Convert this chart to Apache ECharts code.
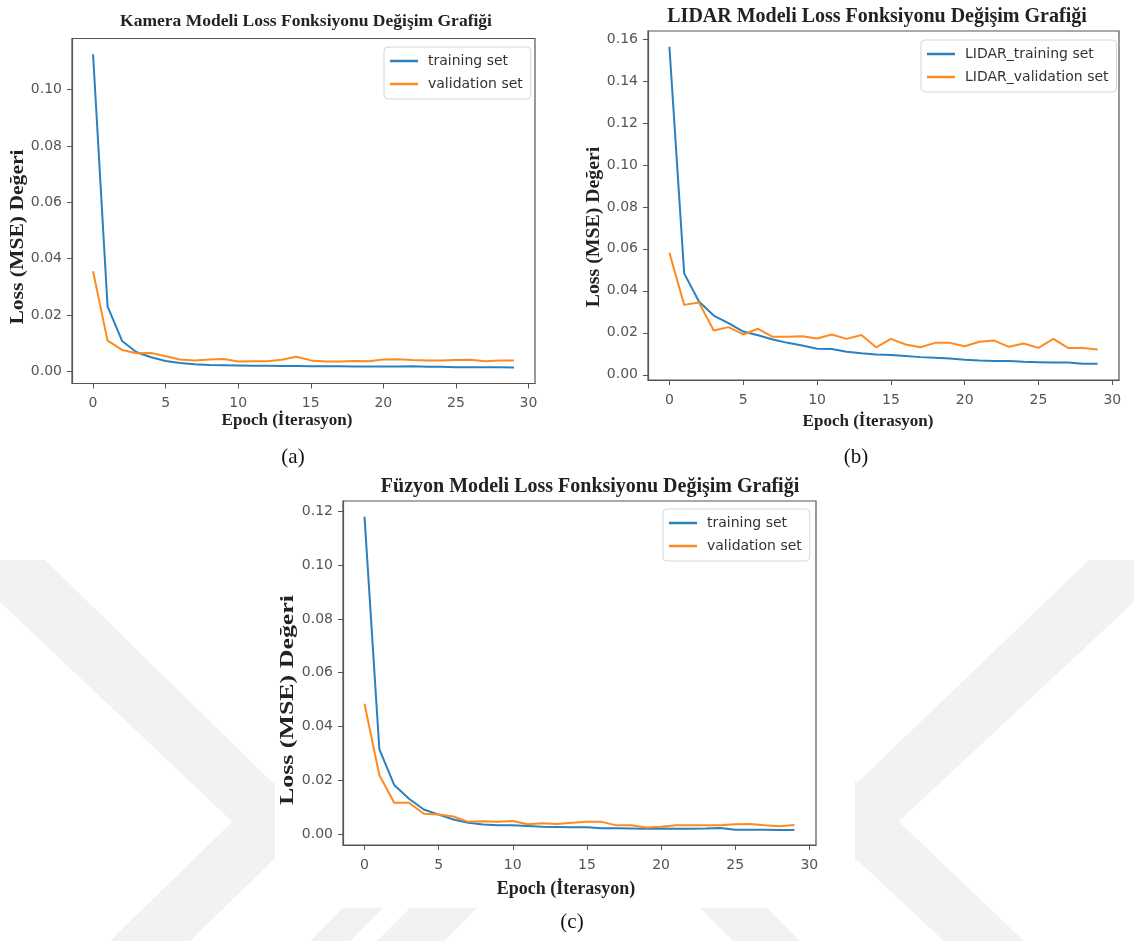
<!DOCTYPE html>
<html>
<head>
<meta charset="utf-8">
<script src="https://cdn.jsdelivr.net/npm/echarts@6/dist/echarts.min.js"></script>
<style>
html,body{margin:0;padding:0;background:#fff;}
#chart{width:1134px;height:941px;}
</style>
</head>
<body>
<div id="chart"></div>
<script>
// ---- data ----
const epochs = [0,1,2,3,4,5,6,7,8,9,10,11,12,13,14,15,16,17,18,19,20,21,22,23,24,25,26,27,28,29];

const camTrain = [0.1125,0.0231,0.0108,0.0068,0.0050,0.0037,0.0030,0.0025,0.0023,0.0022,0.0021,0.0020,0.0020,0.0019,0.0019,0.0018,0.0018,0.0018,0.0017,0.0017,0.0017,0.0017,0.0018,0.0016,0.0016,0.0015,0.0015,0.0015,0.0015,0.0014];
const camVal   = [0.0355,0.0109,0.0076,0.0064,0.0065,0.0054,0.0042,0.0039,0.0042,0.0044,0.0035,0.0036,0.0036,0.0041,0.0052,0.0039,0.0035,0.0035,0.0037,0.0036,0.0042,0.0043,0.0040,0.0039,0.0039,0.0040,0.0041,0.0036,0.0039,0.0039];

const lidarTrain = [0.1563,0.0483,0.0349,0.0282,0.0246,0.0206,0.0188,0.0168,0.0152,0.0139,0.0124,0.0123,0.0110,0.0102,0.0097,0.0094,0.0089,0.0084,0.0081,0.0077,0.0071,0.0068,0.0066,0.0065,0.0062,0.0060,0.0058,0.0058,0.0052,0.0052];
const lidarVal   = [0.0581,0.0333,0.0344,0.0211,0.0227,0.0192,0.0219,0.0181,0.0181,0.0184,0.0173,0.0192,0.0171,0.0189,0.0131,0.0171,0.0144,0.0131,0.0152,0.0152,0.0136,0.0157,0.0163,0.0133,0.0149,0.0128,0.0171,0.0128,0.0128,0.0120];

const fusionTrain = [0.1180,0.0316,0.0183,0.0132,0.0092,0.0073,0.0055,0.0043,0.0036,0.0033,0.0033,0.0031,0.0028,0.0027,0.0026,0.0026,0.0022,0.0022,0.0021,0.0020,0.0021,0.0020,0.0020,0.0021,0.0023,0.0017,0.0017,0.0017,0.0016,0.0016];
const fusionVal   = [0.0485,0.0220,0.0117,0.0117,0.0076,0.0073,0.0066,0.0046,0.0048,0.0046,0.0049,0.0037,0.0041,0.0038,0.0043,0.0046,0.0046,0.0033,0.0033,0.0025,0.0028,0.0033,0.0033,0.0033,0.0033,0.0037,0.0038,0.0033,0.0030,0.0034];

const xTicks = [0,5,10,15,20,25,30];
const yTicksCam = [0,0.02,0.04,0.06,0.08,0.10];
const yTicksLidar = [0,0.02,0.04,0.06,0.08,0.10,0.12,0.14,0.16];
const yTicksFusion = [0,0.02,0.04,0.06,0.08,0.10,0.12];

const titles = ['Kamera Modeli Loss Fonksiyonu Değişim Grafiği','LIDAR Modeli Loss Fonksiyonu Değişim Grafiği','Füzyon Modeli Loss Fonksiyonu Değişim Grafiği'];
const captions = ['(a)','(b)','(c)'];
const xName = 'Epoch (İterasyon)';
const yName = 'Loss (MSE) Değeri';
const legendCam = ['training set','validation set'];
const legendLidar = ['LIDAR_training set','LIDAR_validation set'];
const legendFusion = ['training set','validation set'];

// ---- styling ----
const BLUE = '#2b80bf', ORANGE = '#ff8a1f', AX = '#555';
const serif = '"Liberation Serif","Times New Roman",serif';
const sans = '"DejaVu Sans",sans-serif';
const WM = '#f2f2f2';

function pair(a){ return epochs.map((e,i)=>[e,a[i]]); }

function xAxis(gi){
  return {type:'value', gridIndex:gi, min:-1.45, max:30.45,
    axisLine:{show:true, onZero:false, lineStyle:{color:AX, width:1.2}},
    axisTick:{show:true, inside:false, length:5, lineStyle:{color:AX}, customValues:xTicks},
    axisLabel:{fontFamily:sans, fontSize:14, color:'#555', margin:13, customValues:xTicks,
      formatter:v=>String(v)},
    splitLine:{show:false}};
}
function yAxis(gi, min, max, ticks){
  return {type:'value', gridIndex:gi, min:min, max:max,
    axisLine:{show:true, onZero:false, lineStyle:{color:AX, width:1.2}},
    axisTick:{show:true, inside:false, length:5, lineStyle:{color:AX}, customValues:ticks},
    axisLabel:{fontFamily:sans, fontSize:14, color:'#555', margin:10, customValues:ticks,
      formatter:v=>v.toFixed(2)},
    splitLine:{show:false}};
}
function line(name, data, gi, color){
  return {type:'line', name:name, xAxisIndex:gi, yAxisIndex:gi, data:pair(data),
    showSymbol:false, symbol:'none', lineStyle:{color:color, width:2}, itemStyle:{color:color},
    animation:false, silent:true};
}
function legend(names, left, top){
  return {data:names, orient:'vertical', left:left, top:top,
    backgroundColor:'#fff', borderColor:'#d6d6d6', borderWidth:1, borderRadius:4,
    padding:[6,8,7,6], itemGap:7, itemWidth:28, itemHeight:2.5, icon:'rect',
    textStyle:{fontFamily:sans, fontSize:14, color:'#333', lineHeight:16, padding:[0,0,0,5]}};
}
function label(text, x, y, size, rot, sx){
  return {type:'text', x:x, y:y, rotation:rot||0, scaleX:sx||1, scaleY:1, silent:true, z:50,
    style:{text:text, font:'bold '+size+'px '+serif, fill:'#222',
      align:'center', verticalAlign:'middle', textAlign:'center', textVerticalAlign:'middle'}};
}
function poly(pts){
  return {type:'polygon', silent:true, z:-20, shape:{points:pts}, style:{fill:WM}};
}

// faint background watermark bands (decorative)
const watermark = [
  poly([[0,560],[45,560],[275,785],[275,862],[0,602]]),
  poly([[110,941],[190,941],[275,858],[275,780]]),
  poly([[1134,560],[1089,560],[855,785],[855,862],[1134,602]]),
  poly([[1024,941],[944,941],[855,858],[855,780]]),
  poly([[310,941],[350,941],[383,908],[343,908]]),
  poly([[377,941],[444,941],[477,908],[410,908]]),
  poly([[700,908],[767,908],[800,941],[733,941]]),
  {type:'rect', silent:true, z:-10, shape:{x:275, y:468, width:580, height:440}, style:{fill:'#fff'}}
];

const chart = echarts.init(document.getElementById('chart'), null, {renderer:'canvas'});
chart.setOption({
  backgroundColor:'#fff',
  animation:false,
  title:[
    {text:titles[0], left:301, top:7, textAlign:'center', textStyle:{fontFamily:serif, fontWeight:'bold', fontSize:17.5, color:'#222'}},
    {text:titles[1], left:872, top:2, textAlign:'center', textStyle:{fontFamily:serif, fontWeight:'bold', fontSize:20, color:'#222'}},
    {text:titles[2], left:585, top:472, textAlign:'center', textStyle:{fontFamily:serif, fontWeight:'bold', fontSize:20, color:'#222'}},
    {text:captions[0], left:288, top:442, textAlign:'center', textStyle:{fontFamily:serif, fontWeight:'normal', fontSize:21, color:'#111'}},
    {text:captions[1], left:851, top:442, textAlign:'center', textStyle:{fontFamily:serif, fontWeight:'normal', fontSize:21, color:'#111'}},
    {text:captions[2], left:567, top:907, textAlign:'center', textStyle:{fontFamily:serif, fontWeight:'normal', fontSize:21, color:'#111'}}
  ],
  graphic:watermark.concat([
    label(xName, 287, 421, 17),
    label(xName, 868, 422, 17),
    label(xName, 566, 889, 18),
    label(yName, 18, 237, 18, Math.PI/2, 1.2),
    label(yName, 594, 227, 18, Math.PI/2, 1.1),
    label(yName, 288, 700, 18.5, Math.PI/2, 1.4)
  ]),
  grid:[
    {left:72, top:38.5, width:463, height:345, show:true, borderColor:AX, borderWidth:1.2, backgroundColor:'#fff'},
    {left:648, top:31, width:471, height:349, show:true, borderColor:AX, borderWidth:1.2, backgroundColor:'#fff'},
    {left:343, top:501, width:473, height:344, show:true, borderColor:AX, borderWidth:1.2, backgroundColor:'#fff'}
  ],
  xAxis:[ xAxis(0), xAxis(1), xAxis(2) ],
  yAxis:[
    yAxis(0, -0.0043, 0.1181, yTicksCam),
    yAxis(1, -0.0025, 0.1638, yTicksLidar),
    yAxis(2, -0.0040, 0.1238, yTicksFusion)
  ],
  legend:[ legend(legendCam, 384, 47), legend(legendLidar, 921, 40), legend(legendFusion, 663, 509) ],
  series:[
    line(legendCam[0], camTrain, 0, BLUE),
    line(legendCam[1], camVal, 0, ORANGE),
    line(legendLidar[0], lidarTrain, 1, BLUE),
    line(legendLidar[1], lidarVal, 1, ORANGE),
    line(legendFusion[0], fusionTrain, 2, BLUE),
    line(legendFusion[1], fusionVal, 2, ORANGE)
  ]
});
</script>
</body>
</html>
